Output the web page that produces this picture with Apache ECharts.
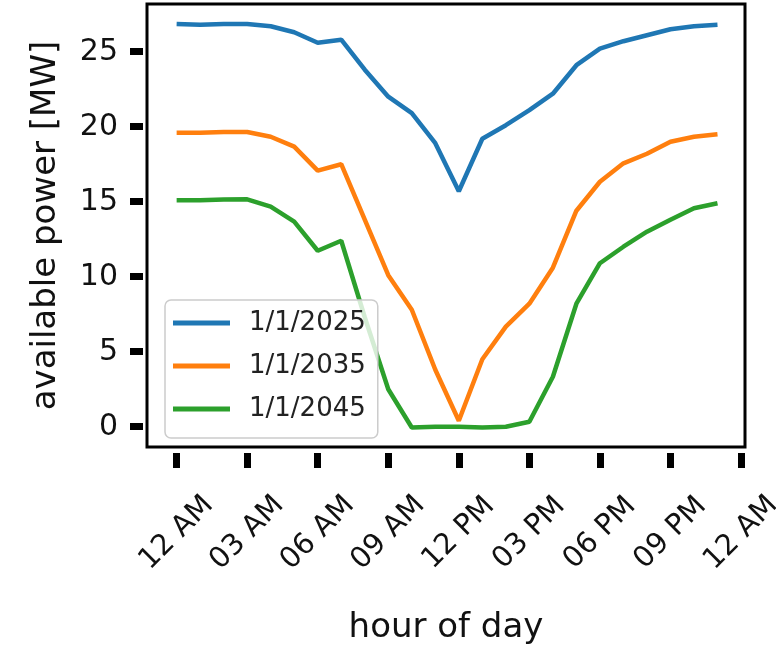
<!DOCTYPE html>
<html>
<head>
<meta charset="utf-8">
<script src="https://cdn.jsdelivr.net/npm/echarts@6/dist/echarts.min.js"></script>
<style>
  html, body { margin: 0; padding: 0; background: #fff; }
  #main { width: 776px; height: 651px; }
</style>
</head>
<body>
<div id="main"></div>
<script>
// hours of the day (0..23)
var hours = [0, 1, 2, 3, 4, 5, 6, 7, 8, 9, 10, 11, 12, 13, 14, 15, 16, 17, 18, 19, 20, 21, 22, 23];
var seriesNames = ['1/1/2025', '1/1/2035', '1/1/2045'];
var power2025 = [26.85, 26.8, 26.85, 26.85, 26.7, 26.3, 25.6, 25.8, 23.8, 22.0, 20.9, 18.9, 15.7, 19.2, 20.1, 21.1, 22.2, 24.1, 25.2, 25.7, 26.1, 26.5, 26.7, 26.8];
var power2035 = [19.6, 19.6, 19.65, 19.65, 19.33, 18.67, 17.07, 17.5, 13.8, 10.1, 7.8, 3.8, 0.4, 4.5, 6.67, 8.2, 10.6, 14.4, 16.33, 17.56, 18.2, 19.0, 19.33, 19.5];
var power2045 = [15.1, 15.1, 15.15, 15.16, 14.67, 13.67, 11.73, 12.4, 7.3, 2.5, -0.05, 0.0, 0.0, -0.05, 0.0, 0.33, 3.33, 8.2, 10.9, 12.0, 13.0, 13.8, 14.56, 14.9];
var xTicks = [0, 3, 6, 9, 12, 15, 18, 21, 24];
var xTickLabels = ['12 AM', '03 AM', '06 AM', '09 AM', '12 PM', '03 PM', '06 PM', '09 PM', '12 AM'];
var yTicks = [0, 5, 10, 15, 20, 25];
var colors = ['#1f77b4', '#ff7f0e', '#2ca02c'];

var font = 'DejaVu Sans';

function pairs(vals) {
    return hours.map(function (h, i) { return [h, vals[i]]; });
}

var myChart = echarts.init(document.getElementById('main'));
myChart.setOption({
    animation: false,
    color: colors,
    textStyle: { fontFamily: font, color: '#111' },
    grid: {
        show: true,
        left: 147,
        top: 4,
        width: 598,
        height: 443,
        outerBoundsMode: 'none',
        containLabel: false,
        borderColor: '#000',
        borderWidth: 3,
        backgroundColor: '#fff'
    },
    legend: {
        orient: 'vertical',
        left: 165,
        top: 300,
        icon: 'rect',
        itemWidth: 57,
        itemHeight: 5,
        itemGap: 17,
        padding: [10, 12, 16, 8],
        backgroundColor: 'rgba(255,255,255,0.8)',
        borderColor: '#cccccc',
        borderWidth: 1.5,
        borderRadius: 6,
        textStyle: { fontFamily: font, fontSize: 26, color: '#222', padding: [0, 0, 0, 14] },
        data: seriesNames
    },
    xAxis: {
        type: 'value',
        min: -1.26,
        max: 24.17,
        offset: 6,
        splitLine: { show: false },
        axisLine: { show: false, onZero: false },
        axisTick: { show: true, customValues: xTicks, length: 15, lineStyle: { color: '#000', width: 7 } },
        axisLabel: {
            customValues: xTicks,
            rotate: 45,
            align: 'center',
            verticalAlign: 'middle',
            margin: 80,
            fontSize: 29,
            fontFamily: font,
            color: '#111',
            formatter: function (v) { return xTickLabels[xTicks.indexOf(v)]; }
        },
        name: 'hour of day',
        nameLocation: 'middle',
        nameGap: 158,
        nameTextStyle: { fontSize: 34, fontFamily: font, color: '#111' }
    },
    yAxis: {
        type: 'value',
        min: -1.35,
        max: 28.18,
        offset: 4,
        splitLine: { show: false },
        axisLine: { show: false, onZero: false },
        axisTick: { show: true, customValues: yTicks, length: 13, lineStyle: { color: '#000', width: 7 } },
        axisLabel: {
            customValues: yTicks,
            margin: 25,
            fontSize: 30,
            fontFamily: font,
            color: '#111'
        },
        name: 'available power [MW]',
        nameLocation: 'middle',
        nameGap: 80,
        nameTextStyle: { fontSize: 34, fontFamily: font, color: '#111' }
    },
    series: [
        { name: seriesNames[0], type: 'line', data: pairs(power2025), showSymbol: false, symbol: 'none', lineStyle: { width: 4.5 } },
        { name: seriesNames[1], type: 'line', data: pairs(power2035), showSymbol: false, symbol: 'none', lineStyle: { width: 4.5 } },
        { name: seriesNames[2], type: 'line', data: pairs(power2045), showSymbol: false, symbol: 'none', lineStyle: { width: 4.5 } }
    ]
});
</script>
</body>
</html>
